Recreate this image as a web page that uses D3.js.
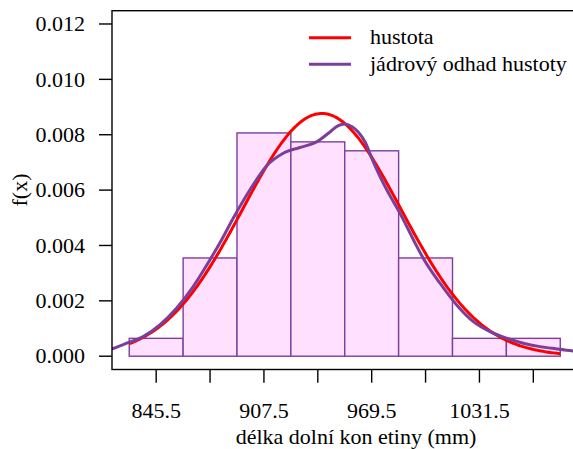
<!DOCTYPE html>
<html>
<head>
<meta charset="utf-8">
<script src="https://cdn.jsdelivr.net/npm/d3@7"></script>
<style>
  html, body { margin: 0; padding: 0; background: #fff; }
</style>
</head>
<body>
<svg id="chart" width="573" height="449" font-family="'Liberation Serif', 'Times New Roman', Times, 'DejaVu Serif', serif"></svg>
<script>
// Histogram bins (mm) and counts per bin
const binEdges = [830, 861, 892, 923, 954, 985, 1016, 1047, 1078];
const binCounts = [2, 11, 25, 24, 23, 11, 2, 2];

// Fitted normal density parameters
const normMean = 940.8;
const normSd = 45.5;

// Kernel density estimate, sampled along x (mm, density)
const kdeX = [812, 820, 828.5, 838, 847.6, 857.2, 866.8, 876.4, 883.1, 889.8, 899.4, 909, 918.6, 928.2, 937.8, 945.5, 950, 954, 958, 962, 966, 970, 975, 980, 985, 990, 995, 1000, 1008.8, 1018.4, 1028, 1037.6, 1047.2, 1056.7, 1066.3, 1075.9, 1085.3, 1095];
const kdeY = [0.00012, 0.000264, 0.000469, 0.000708, 0.00113, 0.001733, 0.002514, 0.003478, 0.0042, 0.004984, 0.006006, 0.006873, 0.007331, 0.00754, 0.00774, 0.0081, 0.00832, 0.00839, 0.0083, 0.00808, 0.0077, 0.00708, 0.0064, 0.0058, 0.00525, 0.00465, 0.00402, 0.00345, 0.002636, 0.001853, 0.00125, 0.000888, 0.00065, 0.00047, 0.000347, 0.000264, 0.00019, 0.00013];

// Axis ticks
const xTicks = [845.5, 876.5, 907.5, 938.5, 969.5, 1000.5, 1031.5, 1062.5];
const xTickLabels = ["845.5", "", "907.5", "", "969.5", "", "1031.5", ""];
const yTicks = [0, 0.002, 0.004, 0.006, 0.008, 0.010, 0.012];

const legendLabels = ["hustota", "jádrový odhad hustoty"];
const xTitle = "délka dolní kon etiny (mm)";
const yTitle = "f(x)";

const colRed = "#ff0000";
const colPurple = "#7b3f9b";
const colFill = "#ffe1ff";

const svg = d3.select("#chart");
const FS = 22;

// Plot region with 4% padding on both axes
const x = d3.scaleLinear().domain([820.08, 1087.92]).range([112, 577.5]);
const y = d3.scaleLinear().domain([-0.00048, 0.01248]).range([369.5, 10.7]);

svg.append("defs").append("clipPath").attr("id", "plotclip")
  .append("rect")
  .attr("x", x.range()[0]).attr("y", y.range()[1])
  .attr("width", x.range()[1] - x.range()[0])
  .attr("height", y.range()[0] - y.range()[1]);

const n = d3.sum(binCounts);
const bins = binCounts.map((c, i) => ({
  x0: binEdges[i], x1: binEdges[i + 1],
  dens: c / (n * (binEdges[i + 1] - binEdges[i]))
}));

// Histogram bars
svg.append("g").selectAll("rect").data(bins).join("rect")
  .attr("x", d => x(d.x0))
  .attr("y", d => y(d.dens))
  .attr("width", d => x(d.x1) - x(d.x0))
  .attr("height", d => y(0) - y(d.dens))
  .attr("fill", colFill)
  .attr("stroke", colPurple)
  .attr("stroke-width", 1.4);

const plotG = svg.append("g").attr("clip-path", "url(#plotclip)");

// Normal density curve over the histogram range
const normPts = d3.range(binEdges[0], binEdges[binEdges.length - 1] + 0.001, 1).map(v => [
  v, Math.exp(-0.5 * ((v - normMean) / normSd) ** 2) / (normSd * Math.sqrt(2 * Math.PI))
]);
const line = d3.line().x(d => x(d[0])).y(d => y(d[1]));

plotG.append("path").datum(normPts)
  .attr("d", line)
  .attr("fill", "none").attr("stroke", colRed).attr("stroke-width", 3);

// Kernel density curve
const kdePts = kdeX.map((v, i) => [v, kdeY[i]]);
plotG.append("path").datum(kdePts)
  .attr("d", line.curve(d3.curveMonotoneX))
  .attr("fill", "none").attr("stroke", colPurple).attr("stroke-width", 3);

// Frame
svg.append("rect")
  .attr("x", x.range()[0]).attr("y", y.range()[1])
  .attr("width", x.range()[1] - x.range()[0])
  .attr("height", y.range()[0] - y.range()[1])
  .attr("fill", "none").attr("stroke", "#000").attr("stroke-width", 1.4);

// Y axis
const yAxis = svg.append("g");
yAxis.selectAll("line").data(yTicks).join("line")
  .attr("x1", 99).attr("x2", x.range()[0])
  .attr("y1", d => y(d)).attr("y2", d => y(d))
  .attr("stroke", "#000").attr("stroke-width", 1.4);
yAxis.selectAll("text").data(yTicks).join("text")
  .attr("x", 85).attr("y", d => y(d))
  .attr("dy", "0.33em")
  .attr("text-anchor", "end")
  .attr("font-size", FS)
  .text(d => d3.format(".3f")(d));

// X axis
const xAxis = svg.append("g");
xAxis.selectAll("line").data(xTicks).join("line")
  .attr("x1", d => x(d)).attr("x2", d => x(d))
  .attr("y1", y.range()[0]).attr("y2", 382.7)
  .attr("stroke", "#000").attr("stroke-width", 1.4);
xAxis.selectAll("text").data(xTicks).join("text")
  .attr("x", d => x(d)).attr("y", 418.3)
  .attr("text-anchor", "middle")
  .attr("font-size", FS)
  .text((d, i) => xTickLabels[i]);

// Axis titles
svg.append("text")
  .attr("x", 356).attr("y", 444)
  .attr("text-anchor", "middle")
  .attr("font-size", FS)
  .text(xTitle);

svg.append("text")
  .attr("transform", "translate(27,190) rotate(-90)")
  .attr("text-anchor", "middle")
  .attr("font-size", FS)
  .text(yTitle);

// Legend
const legend = svg.append("g");
const legendColors = [colRed, colPurple];
legendLabels.forEach((lab, i) => {
  const ly = 37.7 + i * 26.6;
  legend.append("line")
    .attr("x1", 309).attr("x2", 351).attr("y1", ly).attr("y2", ly)
    .attr("stroke", legendColors[i]).attr("stroke-width", 3);
  legend.append("text")
    .attr("x", 370).attr("y", ly).attr("dy", "0.3em")
    .attr("font-size", FS)
    .text(lab);
});
</script>
</body>
</html>
